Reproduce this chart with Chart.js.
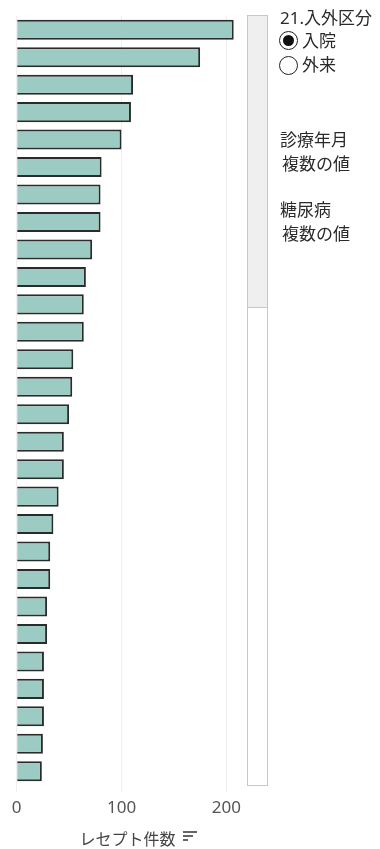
<!DOCTYPE html>
<html lang="ja">
<head>
<meta charset="utf-8">
<script src="https://cdn.jsdelivr.net/npm/chart.js@4.4.1/dist/chart.umd.min.js"></script>
<style>
  html, body { margin: 0; padding: 0; background: #fff; }
  body { width: 380px; height: 849px; position: relative; overflow: hidden;
         font-family: 'Noto Sans', 'Noto Sans CJK JP', sans-serif; color: #333; }
  #wrap { position: absolute; left: 0; top: 0; width: 380px; height: 849px; }
  .scroll { position: absolute; left: 247px; top: 15px; width: 19px; height: 769px;
            border: 1px solid #c8c8c8; background: #fff; }
  .thumb { position: absolute; left: 0; top: 0; width: 19px; height: 291px;
           background: #efefef; border-bottom: 1px solid #c8c8c8; }
  .txt { position: absolute; font-size: 17px; line-height: 20px; white-space: nowrap; color: #2a2a2a; }
  .radio { position: absolute; width: 17px; height: 17px; border: 1.5px solid #222;
           border-radius: 50%; background: #fff; }
  .radio.on::after { content: ''; position: absolute; left: 3px; top: 3px; width: 11px; height: 11px;
                     border-radius: 50%; background: #111; }
  .sort span { position: absolute; height: 2px; background: #666; left: 0; }
</style>
</head>
<body>
<div id="wrap"><canvas id="chart"></canvas></div>

<div class="scroll"><div class="thumb"></div></div>

<div class="txt" style="left:280px; top:8px;">21.入外区分</div>
<div class="radio on" style="left:279px; top:31px;"></div>
<div class="txt" style="left:302px; top:31px;">入院</div>
<div class="radio" style="left:279px; top:56px;"></div>
<div class="txt" style="left:302px; top:55px;">外来</div>
<div class="txt" style="left:280px; top:130px;">診療年月</div>
<div class="txt" style="left:282px; top:154px;">複数の値</div>
<div class="txt" style="left:280px; top:200px;">糖尿病</div>
<div class="txt" style="left:282px; top:224px;">複数の値</div>

<div class="sort" style="position:absolute; left:183px; top:831px;">
  <span style="top:0; width:14px;"></span>
  <span style="top:4px; width:10px;"></span>
  <span style="top:8px; width:5px;"></span>
</div>

<script>
// 並び順（件数の多い順）
const rows = ['1', '2', '3', '4', '5', '6', '7', '8', '9', '10', '11', '12', '13', '14',
              '15', '16', '17', '18', '19', '20', '21', '22', '23', '24', '25', '26', '27', '28'];
const counts = [207, 175, 111, 109, 100, 81, 80, 80, 72, 66, 64, 64, 54, 53,
                50, 45, 45, 40, 35, 32, 32, 29, 29, 26, 26, 26, 25, 24];
const xTicks = [0, 100, 200];
const axisTitle = 'レセプト件数';

document.addEventListener('DOMContentLoaded', function() {
    const ctx = document.getElementById('chart').getContext('2d');
    new Chart(ctx, {
        type: 'bar',
        data: {
            labels: rows,
            datasets: [{
                data: counts,
                backgroundColor: '#9bcbc3',
                borderColor: '#2b2b2b',
                borderWidth: 2,
                borderSkipped: 'start',
                categoryPercentage: 1,
                barPercentage: 0.73
            }]
        },
        options: {
            indexAxis: 'y',
            responsive: true,
            maintainAspectRatio: false,
            animation: false,
            layout: { padding: { left: 15, right: 140, top: 16, bottom: 0 } },
            plugins: {
                legend: { display: false },
                tooltip: { enabled: false }
            },
            scales: {
                y: { display: false },
                x: {
                    min: -1.6,
                    max: 213,
                    afterBuildTicks: function(scale) {
                        scale.ticks = xTicks.map(v => ({ value: v }));
                    },
                    afterFit: function(scale) { scale.height = 64; },
                    border: { display: false },
                    grid: {
                        color: '#efefef',
                        lineWidth: 1,
                        drawTicks: true,
                        tickLength: 7,
                        tickColor: '#efefef'
                    },
                    ticks: {
                        color: '#555',
                        padding: 6,
                        font: { family: "'Noto Sans', 'Noto Sans CJK JP', sans-serif", size: 17 }
                    },
                    title: {
                        display: true,
                        text: axisTitle,
                        color: '#444',
                        padding: { top: 0, bottom: 0 },
                        font: { family: "'Noto Sans CJK JP', sans-serif", size: 16 }
                    }
                }
            }
        }
    });
});
</script>
</body>
</html>
